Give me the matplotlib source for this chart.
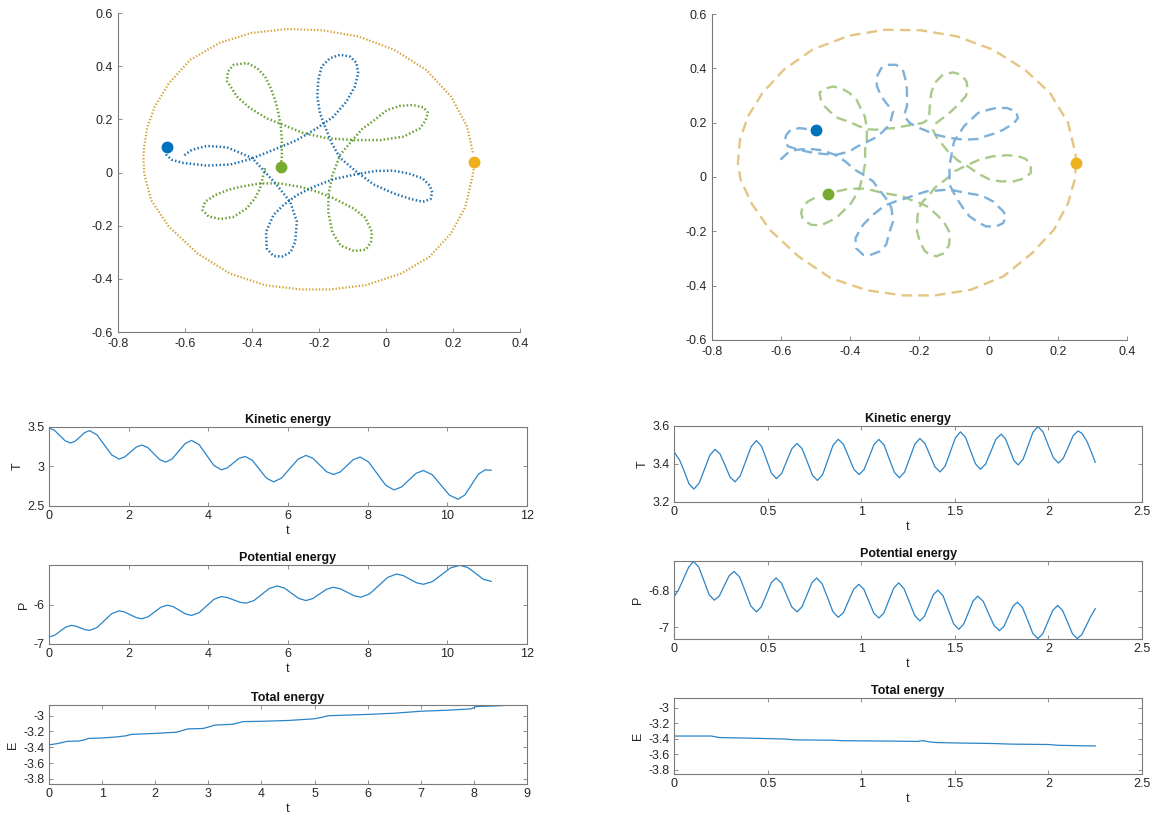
import matplotlib
matplotlib.use("Agg")
import matplotlib.pyplot as plt

OUTPUT_FILE = "out.png"
FIGURE_SIZE = (11.52, 8.19)

AXIS_COLOR = "#7a7a7a"
TEXT_COLOR = "#262626"
LINE_COLOR = "#2a84c8"

BLUE = "#0072BD"
GREEN = "#77AC30"
GOLD = "#EDB120"

# ---- left run: orbits (dotted trails) ----
ORBIT1_BLUE_X = [-0.653, -0.655, -0.640, -0.605, -0.535, -0.465, -0.406, -0.336, -0.266, -0.207,
                 -0.157, -0.118, -0.093, -0.083, -0.088, -0.107, -0.137, -0.167, -0.192, -0.202,
                 -0.205, -0.197, -0.182, -0.162, -0.137, -0.090, -0.037, 0.022, 0.075, 0.110,
                 0.133, 0.138, 0.130, 0.109, 0.066, 0.020, -0.030, -0.094, -0.157, -0.217,
                 -0.266, -0.306, -0.336, -0.358, -0.356, -0.336, -0.310, -0.285, -0.271, -0.266,
                 -0.286, -0.326, -0.366, -0.400, -0.475, -0.535, -0.580, -0.605]
ORBIT1_BLUE_Y = [0.097, 0.066, 0.048, 0.036, 0.026, 0.030, 0.050, 0.085, 0.122, 0.166,
                 0.210, 0.267, 0.323, 0.374, 0.412, 0.436, 0.443, 0.430, 0.399, 0.349,
                 0.286, 0.223, 0.173, 0.110, 0.055, 0.005, -0.045, -0.078, -0.100, -0.110,
                 -0.100, -0.075, -0.048, -0.022, -0.003, 0.007, 0.006, -0.008, -0.025, -0.054,
                 -0.085, -0.122, -0.160, -0.223, -0.286, -0.314, -0.316, -0.300, -0.261, -0.185,
                 -0.110, -0.047, 0.009, 0.055, 0.095, 0.100, 0.085, 0.062]

ORBIT1_GREEN_X = [-0.361, -0.366, -0.376, -0.391, -0.416, -0.455, -0.495, -0.530, -0.548, -0.540,
                  -0.510, -0.470, -0.436, -0.376, -0.316, -0.256, -0.206, -0.160, -0.127, -0.097,
                  -0.062, -0.042, -0.045, -0.060, -0.095, -0.135, -0.160, -0.172, -0.172, -0.160,
                  -0.137, -0.105, -0.070, -0.037, 0.003, 0.040, 0.080, 0.112, 0.125, 0.118,
                  0.100, 0.052, -0.017, -0.097, -0.176, -0.246, -0.306, -0.356, -0.406, -0.445,
                  -0.475, -0.472, -0.455, -0.415, -0.385, -0.361, -0.346, -0.331, -0.321, -0.314,
                  -0.311, -0.311, -0.314]
ORBIT1_GREEN_Y = [0.016, -0.010, -0.060, -0.097, -0.135, -0.167, -0.175, -0.165, -0.140, -0.110,
                  -0.085, -0.065, -0.054, -0.041, -0.041, -0.054, -0.072, -0.095, -0.116, -0.135,
                  -0.170, -0.223, -0.262, -0.290, -0.295, -0.275, -0.225, -0.150, -0.085, -0.010,
                  0.066, 0.115, 0.165, 0.195, 0.235, 0.250, 0.254, 0.245, 0.225, 0.195,
                  0.165, 0.135, 0.122, 0.122, 0.129, 0.148, 0.179, 0.204, 0.242, 0.286,
                  0.345, 0.380, 0.405, 0.412, 0.393, 0.361, 0.323, 0.273, 0.223, 0.173,
                  0.122, 0.060, 0.022]

ORBIT1_GOLD_X = [0.264, 0.258, 0.237, 0.194, 0.130, 0.045, -0.061, -0.168, -0.253, -0.360,
                 -0.466, -0.562, -0.648, -0.701, -0.722, -0.724, -0.722, -0.712, -0.690, -0.648,
                 -0.584, -0.498, -0.402, -0.296, -0.189, -0.083, 0.024, 0.120, 0.194, 0.242, 0.260]
ORBIT1_GOLD_Y = [0.038, -0.016, -0.129, -0.229, -0.317, -0.380, -0.424, -0.440, -0.440, -0.424,
                 -0.380, -0.305, -0.204, -0.104, -0.003, 0.060, 0.097, 0.173, 0.248, 0.336,
                 0.424, 0.487, 0.525, 0.540, 0.535, 0.512, 0.462, 0.386, 0.286, 0.173, 0.072]

ORBIT1_BODIES_X = [-0.653, -0.314, 0.264]
ORBIT1_BODIES_Y = [0.097, 0.020, 0.038]

# ---- right run: orbits (dashed trails) ----
ORBIT2_BLUE_X = [-0.602, -0.581, -0.556, -0.520, -0.480, -0.445, -0.415, -0.387, -0.363, -0.334,
                 -0.320, -0.305, -0.290, -0.281, -0.276, -0.286, -0.296, -0.315, -0.344, -0.363,
                 -0.383, -0.385, -0.363, -0.334, -0.300, -0.265, -0.238, -0.209, -0.180, -0.151,
                 -0.122, -0.098, -0.064, -0.035, -0.016, 0.013, 0.042, 0.051, 0.042, 0.022,
                 -0.007, -0.026, -0.055, -0.074, -0.093, -0.103, -0.113, -0.113, -0.108, -0.100,
                 -0.071, -0.051, -0.030, 0.001, 0.022, 0.053, 0.079, 0.085, 0.074, 0.043,
                 0.022, -0.009, -0.030, -0.071, -0.113, -0.155, -0.180, -0.207, -0.228, -0.245,
                 -0.236, -0.236, -0.240, -0.248, -0.267, -0.291, -0.310, -0.323, -0.323, -0.310,
                 -0.296, -0.276, -0.286, -0.310, -0.330, -0.358, -0.383, -0.402, -0.440, -0.480,
                 -0.520, -0.556, -0.580, -0.590, -0.585, -0.572, -0.546, -0.500]
ORBIT2_BLUE_Y = [0.064, 0.088, 0.100, 0.104, 0.098, 0.082, 0.058, 0.027, 0.009, -0.016,
                 -0.041, -0.065, -0.090, -0.114, -0.163, -0.200, -0.249, -0.274, -0.288, -0.286,
                 -0.262, -0.225, -0.176, -0.139, -0.105, -0.088, -0.078, -0.065, -0.053, -0.050,
                 -0.047, -0.050, -0.059, -0.065, -0.071, -0.090, -0.126, -0.145, -0.170, -0.182,
                 -0.182, -0.170, -0.145, -0.114, -0.077, -0.053, -0.028, 0.045, 0.076, 0.130,
                 0.187, 0.211, 0.236, 0.248, 0.254, 0.254, 0.242, 0.217, 0.199, 0.174,
                 0.162, 0.150, 0.140, 0.137, 0.144, 0.156, 0.170, 0.184, 0.199, 0.225,
                 0.260, 0.321, 0.358, 0.395, 0.413, 0.413, 0.401, 0.370, 0.334, 0.297,
                 0.272, 0.242, 0.192, 0.162, 0.143, 0.125, 0.110, 0.094, 0.082, 0.085,
                 0.092, 0.103, 0.113, 0.131, 0.155, 0.174, 0.180, 0.172]

ORBIT2_GREEN_X = [-0.503, -0.522, -0.538, -0.542, -0.537, -0.513, -0.484, -0.455, -0.436, -0.411,
                  -0.397, -0.383, -0.373, -0.363, -0.357, -0.357, -0.352, -0.352, -0.358, -0.368,
                  -0.382, -0.402, -0.426, -0.450, -0.475, -0.489, -0.485, -0.474, -0.460, -0.436,
                  -0.407, -0.373, -0.354, -0.325, -0.300, -0.267, -0.248, -0.219, -0.190, -0.172,
                  -0.170, -0.166, -0.156, -0.132, -0.103, -0.079, -0.064, -0.060, -0.066, -0.088,
                  -0.108, -0.132, -0.151, -0.161, -0.150, -0.137, -0.115, -0.088, -0.055, -0.030,
                  0.001, 0.033, 0.074, 0.105, 0.122, 0.122, 0.108, 0.085, 0.053, 0.012,
                  -0.026, -0.060, -0.098, -0.113, -0.137, -0.156, -0.170, -0.190, -0.202, -0.206,
                  -0.207, -0.199, -0.185, -0.170, -0.151, -0.128, -0.114, -0.112, -0.125, -0.145,
                  -0.175, -0.200, -0.228, -0.248, -0.286, -0.310, -0.349, -0.373, -0.410, -0.445,
                  -0.463]
ORBIT2_GREEN_Y = [-0.077, -0.090, -0.110, -0.133, -0.157, -0.176, -0.178, -0.160, -0.145, -0.114,
                  -0.096, -0.065, -0.040, 0.009, 0.050, 0.100, 0.137, 0.180, 0.223, 0.248,
                  0.285, 0.309, 0.327, 0.333, 0.325, 0.310, 0.285, 0.260, 0.242, 0.217,
                  0.205, 0.186, 0.176, 0.174, 0.178, 0.180, 0.186, 0.193, 0.199, 0.215,
                  0.260, 0.309, 0.346, 0.377, 0.385, 0.377, 0.352, 0.321, 0.297, 0.266,
                  0.242, 0.217, 0.199, 0.174, 0.145, 0.125, 0.090, 0.060, 0.035, 0.012,
                  -0.008, -0.016, -0.016, -0.004, 0.015, 0.045, 0.066, 0.077, 0.080, 0.076,
                  0.064, 0.045, 0.021, 0.002, -0.022, -0.040, -0.065, -0.090, -0.115, -0.151,
                  -0.200, -0.237, -0.272, -0.286, -0.292, -0.280, -0.250, -0.206, -0.175, -0.145,
                  -0.110, -0.095, -0.083, -0.071, -0.063, -0.057, -0.045, -0.042, -0.045, -0.055,
                  -0.063]

ORBIT2_GOLD_X = [0.253, 0.249, 0.230, 0.189, 0.126, 0.043, -0.051, -0.155, -0.248, -0.352,
                 -0.457, -0.550, -0.633, -0.686, -0.717, -0.725, -0.719, -0.696, -0.654, -0.592,
                 -0.509, -0.404, -0.300, -0.196, -0.092, 0.012, 0.105, 0.178, 0.230, 0.251, 0.253]
ORBIT2_GOLD_Y = [0.052, -0.010, -0.096, -0.194, -0.280, -0.366, -0.415, -0.436, -0.436, -0.417,
                 -0.372, -0.292, -0.194, -0.096, -0.010, 0.052, 0.137, 0.223, 0.309, 0.395,
                 0.469, 0.520, 0.542, 0.540, 0.518, 0.469, 0.395, 0.309, 0.199, 0.088, 0.052]

ORBIT2_BODIES_X = [-0.500, -0.463, 0.253]
ORBIT2_BODIES_Y = [0.172, -0.063, 0.052]

ORBIT_XTICKS = [-0.8, -0.6, -0.4, -0.2, 0, 0.2, 0.4]
ORBIT_XLABELS = ["-0.8", "-0.6", "-0.4", "-0.2", "0", "0.2", "0.4"]
ORBIT_YTICKS = [-0.6, -0.4, -0.2, 0, 0.2, 0.4, 0.6]
ORBIT_YLABELS = ["-0.6", "-0.4", "-0.2", "0", "0.2", "0.4", "0.6"]

# ---- left run: energies ----
T1_T = [0, 0.135, 0.27, 0.405, 0.54, 0.66, 0.78, 0.90, 1.02, 1.205, 1.39, 1.575, 1.76,
        1.90, 2.045, 2.19, 2.33, 2.48, 2.63, 2.78, 2.93, 3.09, 3.255, 3.42, 3.58,
        3.77, 3.955, 4.14, 4.33, 4.48, 4.625, 4.77, 4.92, 5.10, 5.28, 5.46, 5.64,
        5.84, 6.045, 6.25, 6.45, 6.62, 6.795, 6.97, 7.14, 7.31, 7.475, 7.64, 7.81,
        8.02, 8.235, 8.45, 8.66, 8.845, 9.03, 9.215, 9.40, 9.62, 9.835, 10.05, 10.27,
        10.44, 10.61, 10.78, 10.95, 11.10]
T1_KIN = [3.487, 3.459, 3.392, 3.325, 3.297, 3.320, 3.375, 3.430, 3.453, 3.400, 3.273, 3.146, 3.093,
          3.119, 3.182, 3.245, 3.271, 3.239, 3.163, 3.087, 3.055, 3.095, 3.193, 3.290, 3.330,
          3.276, 3.144, 3.012, 2.958, 2.983, 3.043, 3.102, 3.127, 3.080, 2.966, 2.852, 2.805,
          2.854, 2.973, 3.091, 3.140, 3.105, 3.019, 2.933, 2.898, 2.930, 3.009, 3.087, 3.119,
          3.058, 2.911, 2.764, 2.703, 2.739, 2.826, 2.913, 2.949, 2.896, 2.767, 2.638, 2.585,
          2.640, 2.772, 2.903, 2.958, 2.952]

T1_P = [0, 0.14, 0.28, 0.42, 0.56, 0.675, 0.79, 0.905, 1.02, 1.205, 1.39, 1.575, 1.76,
        1.90, 2.045, 2.19, 2.33, 2.49, 2.65, 2.81, 2.97, 3.12, 3.275, 3.43, 3.58,
        3.77, 3.955, 4.14, 4.33, 4.48, 4.635, 4.79, 4.94, 5.14, 5.335, 5.53, 5.73,
        5.91, 6.09, 6.27, 6.45, 6.62, 6.795, 6.97, 7.14, 7.31, 7.485, 7.66, 7.83,
        8.05, 8.275, 8.50, 8.72, 8.89, 9.06, 9.23, 9.40, 9.63, 9.855, 10.08, 10.31,
        10.51, 10.71, 10.90, 11.10]
P1_POT = [-6.822, -6.779, -6.674, -6.568, -6.525, -6.544, -6.589, -6.634, -6.653, -6.580, -6.403, -6.226, -6.153,
          -6.183, -6.255, -6.326, -6.356, -6.305, -6.182, -6.059, -6.008, -6.046, -6.140, -6.233, -6.271,
          -6.200, -6.030, -5.859, -5.788, -5.813, -5.873, -5.933, -5.958, -5.894, -5.738, -5.581, -5.517,
          -5.571, -5.704, -5.836, -5.890, -5.840, -5.721, -5.600, -5.551, -5.588, -5.678, -5.768, -5.805,
          -5.718, -5.509, -5.300, -5.212, -5.250, -5.344, -5.437, -5.475, -5.403, -5.229, -5.055, -4.990,
          -5.045, -5.195, -5.345, -5.400]

T1_E = [0, 0.15, 0.25, 0.35, 0.55, 0.65, 0.75, 1.0, 1.3, 1.45, 1.55, 2.0, 2.4, 2.5, 2.62,
        2.9, 3.0, 3.12, 3.45, 3.55, 3.65, 4.0, 4.5, 5.0, 5.15, 5.25, 6.0, 6.5, 7.0, 7.5,
        7.95, 8.05, 8.4, 8.75]
E1_TOT = [-3.370, -3.355, -3.340, -3.325, -3.322, -3.310, -3.288, -3.283, -3.268, -3.255, -3.238,
          -3.225, -3.210, -3.190, -3.168, -3.163, -3.145, -3.120, -3.110, -3.095, -3.076, -3.072,
          -3.062, -3.040, -3.020, -3.002, -2.985, -2.970, -2.945, -2.932, -2.915, -2.885, -2.878, -2.866]

# ---- right run: energies ----
T2_T = [0, 0.030, 0.055, 0.080, 0.106, 0.134, 0.163, 0.191, 0.219, 0.246, 0.273, 0.299, 0.326,
        0.354, 0.383, 0.412, 0.440, 0.467, 0.494, 0.520, 0.547, 0.575, 0.602, 0.630, 0.657,
        0.684, 0.712, 0.739, 0.766, 0.794, 0.822, 0.849, 0.877, 0.905, 0.933, 0.961, 0.989,
        1.015, 1.042, 1.068, 1.094, 1.122, 1.149, 1.177, 1.204, 1.231, 1.259, 1.286, 1.313,
        1.340, 1.367, 1.394, 1.421, 1.448, 1.476, 1.503, 1.530, 1.557, 1.583, 1.610, 1.636,
        1.664, 1.692, 1.719, 1.747, 1.770, 1.793, 1.815, 1.838, 1.864, 1.891, 1.917, 1.943,
        1.971, 1.998, 2.026, 2.053, 2.079, 2.106, 2.132, 2.158, 2.180, 2.205, 2.228, 2.250]
T2_KIN = [3.464, 3.420, 3.360, 3.295, 3.268, 3.299, 3.373, 3.446, 3.477, 3.452, 3.392, 3.331, 3.306,
          3.338, 3.415, 3.491, 3.523, 3.494, 3.423, 3.352, 3.323, 3.350, 3.416, 3.481, 3.508,
          3.480, 3.411, 3.341, 3.313, 3.345, 3.422, 3.498, 3.530, 3.503, 3.437, 3.371, 3.344,
          3.371, 3.437, 3.502, 3.529, 3.500, 3.428, 3.356, 3.327, 3.357, 3.431, 3.504, 3.534,
          3.508, 3.446, 3.384, 3.358, 3.389, 3.464, 3.538, 3.569, 3.540, 3.471, 3.401, 3.372,
          3.399, 3.465, 3.530, 3.557, 3.533, 3.476, 3.419, 3.395, 3.424, 3.496, 3.567, 3.597,
          3.569, 3.501, 3.433, 3.405, 3.430, 3.490, 3.549, 3.574, 3.560, 3.520, 3.465, 3.409]

T2_P = [0, 0.026, 0.052, 0.078, 0.104, 0.132, 0.160, 0.187, 0.215, 0.242, 0.268, 0.295, 0.321,
        0.351, 0.381, 0.410, 0.440, 0.466, 0.493, 0.519, 0.545, 0.573, 0.601, 0.629, 0.657,
        0.683, 0.710, 0.736, 0.762, 0.791, 0.820, 0.848, 0.877, 0.905, 0.932, 0.960, 0.987,
        1.014, 1.041, 1.067, 1.094, 1.121, 1.147, 1.174, 1.200, 1.228, 1.257, 1.285, 1.313,
        1.337, 1.361, 1.385, 1.409, 1.437, 1.465, 1.493, 1.521, 1.546, 1.572, 1.597, 1.622,
        1.651, 1.680, 1.709, 1.738, 1.762, 1.786, 1.810, 1.834, 1.861, 1.889, 1.916, 1.943,
        1.970, 1.996, 2.023, 2.049, 2.075, 2.102, 2.128, 2.154, 2.178, 2.202, 2.226, 2.250]
P2_POT = [-6.833, -6.790, -6.730, -6.670, -6.638, -6.669, -6.745, -6.820, -6.851, -6.828, -6.772, -6.716, -6.693,
          -6.725, -6.804, -6.883, -6.915, -6.888, -6.822, -6.756, -6.729, -6.756, -6.822, -6.888, -6.915,
          -6.888, -6.822, -6.756, -6.729, -6.761, -6.837, -6.913, -6.945, -6.919, -6.855, -6.790, -6.764,
          -6.791, -6.857, -6.922, -6.949, -6.921, -6.853, -6.784, -6.756, -6.787, -6.861, -6.934, -6.965,
          -6.940, -6.881, -6.821, -6.796, -6.827, -6.904, -6.980, -7.011, -6.984, -6.920, -6.856, -6.829,
          -6.857, -6.924, -6.990, -7.018, -6.995, -6.940, -6.885, -6.862, -6.891, -6.962, -7.033, -7.062,
          -7.035, -6.971, -6.907, -6.880, -6.907, -6.971, -7.035, -7.062, -7.040, -6.990, -6.940, -6.898]

T2_E = [0, 0.2, 0.24, 0.4, 0.6, 0.64, 0.85, 0.9, 1.1, 1.3, 1.33, 1.36, 1.4, 1.5, 1.7, 1.8, 2.0, 2.05, 2.25]
E2_TOT = [-3.366, -3.366, -3.385, -3.393, -3.405, -3.415, -3.420, -3.426, -3.430, -3.435, -3.425,
          -3.440, -3.450, -3.455, -3.462, -3.470, -3.475, -3.485, -3.494]


def run():
    plt.rcParams["font.family"] = ["Liberation Sans", "DejaVu Sans"]
    plt.rcParams["axes.unicode_minus"] = False
    fig = plt.figure(figsize=FIGURE_SIZE, dpi=100)

    __plot_orbit_dotted(fig.add_axes([0.1024, 0.5946, 0.349, 0.3895]))
    __plot_orbit_dashed(fig.add_axes([0.618, 0.5849, 0.3602, 0.398]))

    __plot_energy_left(fig)
    __plot_energy_right(fig)

    fig.savefig(OUTPUT_FILE, dpi=100)


def __style(ax, boxed, labelsize=9, pad=3):
    ax.spines["top"].set_visible(boxed)
    ax.spines["right"].set_visible(boxed)
    for spine in ax.spines.values():
        spine.set_color(AXIS_COLOR)
        spine.set_linewidth(0.8)
    ax.tick_params(direction="in", length=3, width=0.6, colors=AXIS_COLOR,
                   labelcolor=TEXT_COLOR, labelsize=labelsize, top=boxed, right=boxed, pad=pad)


def __orbit_axes(ax):
    ax.set_xlim(-0.8, 0.4)
    ax.set_ylim(-0.6, 0.6)
    ax.set_xticks(ORBIT_XTICKS, ORBIT_XLABELS)
    ax.set_yticks(ORBIT_YTICKS, ORBIT_YLABELS)
    __style(ax, boxed=False, labelsize=9, pad=4)


def __plot_orbit_dotted(ax):
    dots = (0, (0.6, 0.9))
    ax.plot(ORBIT1_GOLD_X, ORBIT1_GOLD_Y, color="#d2a232", lw=1.6, ls=dots)
    ax.plot(ORBIT1_GREEN_X, ORBIT1_GREEN_Y, color="#67a032", lw=1.8, ls=dots)
    ax.plot(ORBIT1_BLUE_X, ORBIT1_BLUE_Y, color="#1f6fae", lw=1.8, ls=dots)
    for x, y, c in zip(ORBIT1_BODIES_X, ORBIT1_BODIES_Y, [BLUE, GREEN, GOLD]):
        ax.plot(x, y, "o", color=c, ms=7.5, mec=c)
    __orbit_axes(ax)


def __plot_orbit_dashed(ax):
    dash = (0, (4.5, 2.6))
    ax.plot(ORBIT2_GOLD_X, ORBIT2_GOLD_Y, color="#e4c583", lw=1.7, ls=dash)
    ax.plot(ORBIT2_GREEN_X, ORBIT2_GREEN_Y, color="#a9c98a", lw=1.7, ls=dash)
    ax.plot(ORBIT2_BLUE_X, ORBIT2_BLUE_Y, color="#7db1da", lw=1.7, ls=dash)
    for x, y, c in zip(ORBIT2_BODIES_X, ORBIT2_BODIES_Y, [BLUE, GREEN, GOLD]):
        ax.plot(x, y, "o", color=c, ms=7.5, mec=c)
    __orbit_axes(ax)


def __energy(ax, t, v, title, ylabel, xlim, xticks, xlabels, ylim, yticks, ylabels):
    ax.plot(t, v, color=LINE_COLOR, lw=0.9, solid_joinstyle="round")
    ax.set_xlim(*xlim)
    ax.set_ylim(*ylim)
    ax.set_xticks(xticks, xlabels)
    ax.set_yticks(yticks, ylabels)
    __style(ax, boxed=True, labelsize=9, pad=3)
    ax.set_title(title, fontsize=9, fontweight="bold", color="#111111", pad=3)
    ax.set_ylabel(ylabel, fontsize=9, color=TEXT_COLOR, labelpad=3)
    ax.set_xlabel("t", fontsize=9, color=TEXT_COLOR, labelpad=2)


def __plot_energy_left(fig):
    x12 = [0, 2, 4, 6, 8, 10, 12]
    x9 = [0, 1, 2, 3, 4, 5, 6, 7, 8, 9]
    __energy(fig.add_axes([0.0425, 0.3822, 0.4150, 0.0965]), T1_T, T1_KIN,
             "Kinetic energy", "T", (0, 12), x12, [str(v) for v in x12],
             (2.5, 3.5), [2.5, 3, 3.5], ["2.5", "3", "3.5"])
    __energy(fig.add_axes([0.0425, 0.2137, 0.4150, 0.0965]), T1_P, P1_POT,
             "Potential energy", "P", (0, 12), x12, [str(v) for v in x12],
             (-7.0, -4.98), [-7, -6], ["-7", "-6"])
    __energy(fig.add_axes([0.0425, 0.0427, 0.4150, 0.0965]), T1_E, E1_TOT,
             "Total energy", "E", (0, 9), x9, [str(v) for v in x9],
             (-3.865, -2.866), [-3.8, -3.6, -3.4, -3.2, -3.0],
             ["-3.8", "-3.6", "-3.4", "-3.2", "-3"])


def __plot_energy_right(fig):
    xt = [0, 0.5, 1, 1.5, 2, 2.5]
    xl = ["0", "0.5", "1", "1.5", "2", "2.5"]
    __energy(fig.add_axes([0.5851, 0.3871, 0.4063, 0.0928]), T2_T, T2_KIN,
             "Kinetic energy", "T", (0, 2.5), xt, xl,
             (3.2, 3.6), [3.2, 3.4, 3.6], ["3.2", "3.4", "3.6"])
    __energy(fig.add_axes([0.5851, 0.2198, 0.4063, 0.0952]), T2_P, P2_POT,
             "Potential energy", "P", (0, 2.5), xt, xl,
             (-7.064, -6.636), [-7.0, -6.8], ["-7", "-6.8"])
    __energy(fig.add_axes([0.5851, 0.0549, 0.4063, 0.0928]), T2_E, E2_TOT,
             "Total energy", "E", (0, 2.5), xt, xl,
             (-3.855, -2.877), [-3.8, -3.6, -3.4, -3.2, -3.0],
             ["-3.8", "-3.6", "-3.4", "-3.2", "-3"])


if __name__ == "__main__":
    run()
